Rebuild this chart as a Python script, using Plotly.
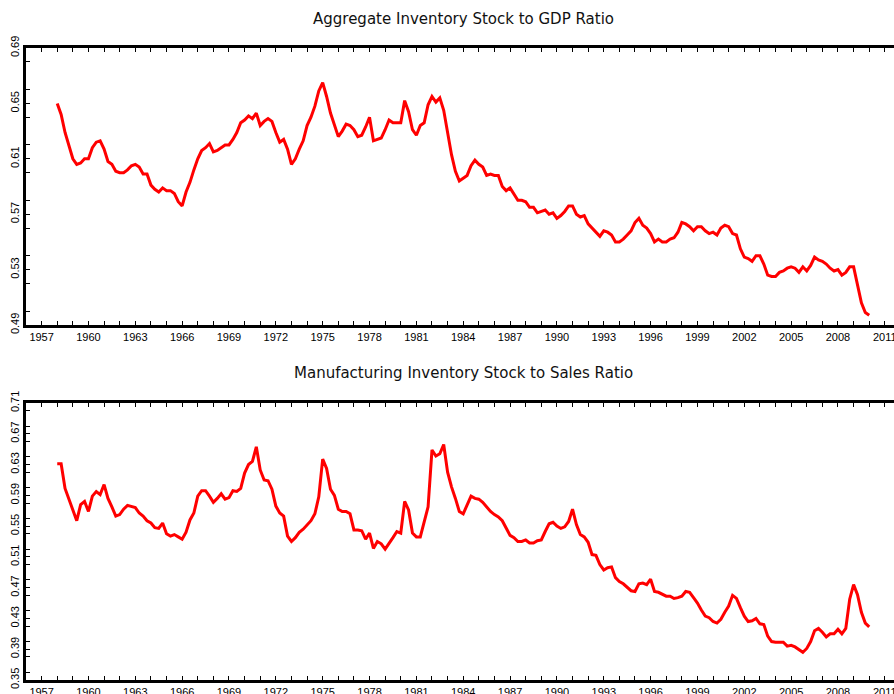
import plotly.graph_objects as go

# Quarterly observations, 1958Q1 through 2010Q1
start_year = 1958

# Aggregate inventory stock relative to GDP
gdp_ratio = [
    0.650, 0.642, 0.629, 0.619,  # 1958
    0.610, 0.606, 0.607, 0.610,  # 1959
    0.610, 0.618, 0.622, 0.623,  # 1960
    0.617, 0.608, 0.606, 0.601,  # 1961
    0.600, 0.600, 0.602, 0.605,  # 1962
    0.606, 0.604, 0.599, 0.599,  # 1963
    0.591, 0.588, 0.586, 0.589,  # 1964
    0.587, 0.587, 0.585, 0.579,  # 1965
    0.576, 0.586, 0.593, 0.602,  # 1966
    0.610, 0.616, 0.618, 0.621,  # 1967
    0.615, 0.616, 0.618, 0.620,  # 1968
    0.620, 0.624, 0.629, 0.636,  # 1969
    0.638, 0.641, 0.639, 0.643,  # 1970
    0.634, 0.637, 0.639, 0.637,  # 1971
    0.629, 0.622, 0.624, 0.617,  # 1972
    0.606, 0.610, 0.617, 0.623,  # 1973
    0.634, 0.640, 0.648, 0.659,  # 1974
    0.665, 0.655, 0.643, 0.634,  # 1975
    0.626, 0.630, 0.635, 0.634,  # 1976
    0.631, 0.626, 0.627, 0.633,  # 1977
    0.640, 0.623, 0.624, 0.625,  # 1978
    0.631, 0.638, 0.636, 0.636,  # 1979
    0.636, 0.652, 0.644, 0.631,  # 1980
    0.627, 0.634, 0.636, 0.649,  # 1981
    0.655, 0.651, 0.654, 0.645,  # 1982
    0.628, 0.613, 0.601, 0.594,  # 1983
    0.596, 0.598, 0.605, 0.609,  # 1984
    0.606, 0.604, 0.598, 0.599,  # 1985
    0.598, 0.598, 0.590, 0.587,  # 1986
    0.589, 0.584, 0.580, 0.580,  # 1987
    0.579, 0.575, 0.575, 0.571,  # 1988
    0.572, 0.573, 0.570, 0.571,  # 1989
    0.567, 0.569, 0.572, 0.576,  # 1990
    0.576, 0.570, 0.568, 0.569,  # 1991
    0.563, 0.560, 0.557, 0.554,  # 1992
    0.558, 0.557, 0.555, 0.550,  # 1993
    0.550, 0.552, 0.555, 0.558,  # 1994
    0.564, 0.567, 0.562, 0.560,  # 1995
    0.556, 0.550, 0.552, 0.550,  # 1996
    0.550, 0.552, 0.553, 0.557,  # 1997
    0.564, 0.563, 0.561, 0.558,  # 1998
    0.561, 0.561, 0.558, 0.556,  # 1999
    0.557, 0.555, 0.560, 0.562,  # 2000
    0.561, 0.556, 0.555, 0.545,  # 2001
    0.539, 0.538, 0.536, 0.540,  # 2002
    0.540, 0.534, 0.526, 0.525,  # 2003
    0.525, 0.528, 0.529, 0.531,  # 2004
    0.532, 0.531, 0.528, 0.532,  # 2005
    0.529, 0.533, 0.539, 0.537,  # 2006
    0.536, 0.534, 0.531, 0.529,  # 2007
    0.530, 0.526, 0.528, 0.532,  # 2008
    0.532, 0.518, 0.506, 0.499,  # 2009
    0.497,                       # 2010
]

# Manufacturing inventory stock relative to sales
mfg_ratio = [
    0.631, 0.631, 0.599, 0.584,  # 1958
    0.570, 0.557, 0.578, 0.582,  # 1959
    0.569, 0.589, 0.595, 0.591,  # 1960
    0.604, 0.586, 0.575, 0.563,  # 1961
    0.565, 0.572, 0.577, 0.576,  # 1962
    0.574, 0.567, 0.563, 0.557,  # 1963
    0.554, 0.548, 0.547, 0.554,  # 1964
    0.540, 0.537, 0.539, 0.536,  # 1965
    0.533, 0.542, 0.558, 0.567,  # 1966
    0.589, 0.596, 0.596, 0.589,  # 1967
    0.581, 0.586, 0.592, 0.585,  # 1968
    0.587, 0.596, 0.595, 0.599,  # 1969
    0.619, 0.630, 0.634, 0.653,  # 1970
    0.623, 0.610, 0.609, 0.598,  # 1971
    0.576, 0.567, 0.563, 0.537,  # 1972
    0.530, 0.535, 0.542, 0.546,  # 1973
    0.551, 0.557, 0.566, 0.588,  # 1974
    0.637, 0.625, 0.598, 0.590,  # 1975
    0.572, 0.569, 0.569, 0.566,  # 1976
    0.545, 0.545, 0.544, 0.533,  # 1977
    0.541, 0.521, 0.530, 0.527,  # 1978
    0.520, 0.527, 0.535, 0.543,  # 1979
    0.541, 0.582, 0.571, 0.541,  # 1980
    0.536, 0.536, 0.555, 0.575,  # 1981
    0.649, 0.641, 0.644, 0.656,  # 1982
    0.620, 0.601, 0.586, 0.569,  # 1983
    0.566, 0.578, 0.589, 0.586,  # 1984
    0.585, 0.581, 0.575, 0.569,  # 1985
    0.565, 0.562, 0.557, 0.547,  # 1986
    0.538, 0.535, 0.530, 0.530,  # 1987
    0.532, 0.528, 0.528, 0.531,  # 1988
    0.532, 0.543, 0.553, 0.555,  # 1989
    0.550, 0.547, 0.549, 0.556,  # 1990
    0.572, 0.552, 0.539, 0.536,  # 1991
    0.529, 0.513, 0.512, 0.500,  # 1992
    0.493, 0.496, 0.497, 0.483,  # 1993
    0.478, 0.475, 0.470, 0.466,  # 1994
    0.465, 0.475, 0.476, 0.474,  # 1995
    0.481, 0.465, 0.464, 0.462,  # 1996
    0.459, 0.459, 0.456, 0.457,  # 1997
    0.459, 0.465, 0.464, 0.457,  # 1998
    0.450, 0.441, 0.433, 0.431,  # 1999
    0.426, 0.424, 0.429, 0.438,  # 2000
    0.446, 0.460, 0.456, 0.444,  # 2001
    0.433, 0.426, 0.427, 0.430,  # 2002
    0.423, 0.422, 0.407, 0.400,  # 2003
    0.399, 0.399, 0.399, 0.394,  # 2004
    0.395, 0.393, 0.390, 0.386,  # 2005
    0.391, 0.400, 0.414, 0.417,  # 2006
    0.412, 0.406, 0.410, 0.410,  # 2007
    0.416, 0.410, 0.417, 0.455,  # 2008
    0.474, 0.461, 0.438, 0.424,  # 2009
    0.419,                       # 2010
]

titles = [
    "Aggregate Inventory Stock to GDP Ratio",
    "Manufacturing Inventory Stock to Sales Ratio",
]

# Time index in fractional years (quarter q plotted at year + (q-1)/4)
period = [start_year + i / 4 for i in range(len(gdp_ratio))]

W, H = 894, 694
LEFT = 26
# panel frames in pixels: (top, bottom)
panels = [(48, 325), (403, 680)]
y_ranges = [(0.49, 0.69), (0.35, 0.71)]
x_range = (1956, 1956 + (W - LEFT) / 15.615)

TICK_FONT = dict(family="Liberation Sans, Arial, sans-serif", size=11, color="black")
TITLE_FONT = dict(family="DejaVu Sans, sans-serif", size=15, color="#111111")

fig = go.Figure()
for k, series in enumerate([gdp_ratio, mfg_ratio]):
    suffix = "" if k == 0 else str(k + 1)
    fig.add_trace(go.Scatter(
        x=period, y=series, mode="lines",
        xaxis="x" + suffix, yaxis="y" + suffix,
        line=dict(color="#ff0000", width=3),
        showlegend=False, hoverinfo="skip",
    ))

layout = dict(
    width=W, height=H,
    margin=dict(l=LEFT, r=0, t=0, b=0, autoexpand=False),
    paper_bgcolor="white", plot_bgcolor="white",
    showlegend=False,
)

for k in range(2):
    suffix = "" if k == 0 else str(k + 1)
    top, bottom = panels[k]
    ylo, yhi = y_ranges[k]
    layout["xaxis" + suffix] = dict(
        domain=[0, 1], anchor="y" + suffix,
        range=list(x_range),
        tick0=1957, dtick=3,
        ticks="inside", ticklen=4, tickwidth=1, tickcolor="black",
        minor=dict(dtick=1, tick0=1957, ticks="inside", ticklen=4,
                   tickwidth=1, tickcolor="black", showgrid=False),
        showline=True, linewidth=3, linecolor="black", mirror="ticks",
        showgrid=False, zeroline=False,
        tickfont=TICK_FONT, automargin=False,
        ticklabeloverflow="allow",
    )
    layout["yaxis" + suffix] = dict(
        domain=[1 - bottom / H, 1 - top / H], anchor="x" + suffix,
        range=[ylo, yhi],
        tick0=ylo, dtick=0.04, tickformat=".2f", tickangle=-90,
        ticks="inside", ticklen=4, tickwidth=1, tickcolor="black",
        minor=dict(dtick=0.02, ticks="inside", ticklen=4,
                   tickwidth=1, tickcolor="black", showgrid=False),
        showline=True, linewidth=3, linecolor="black", mirror=False,
        showgrid=False, zeroline=False,
        tickfont=TICK_FONT, automargin=False,
        ticklabeloverflow="allow",
    )

fig.update_layout(**layout)

# Panel titles centred over the full frame width
title_y = [19, 373]
for k, text in enumerate(titles):
    fig.add_annotation(
        text=text, xref="paper", yref="paper",
        x=(463 - LEFT) / (W - LEFT), y=1 - title_y[k] / H,
        xanchor="center", yanchor="middle", showarrow=False,
        font=TITLE_FONT,
    )

fig.write_html("out.html")
